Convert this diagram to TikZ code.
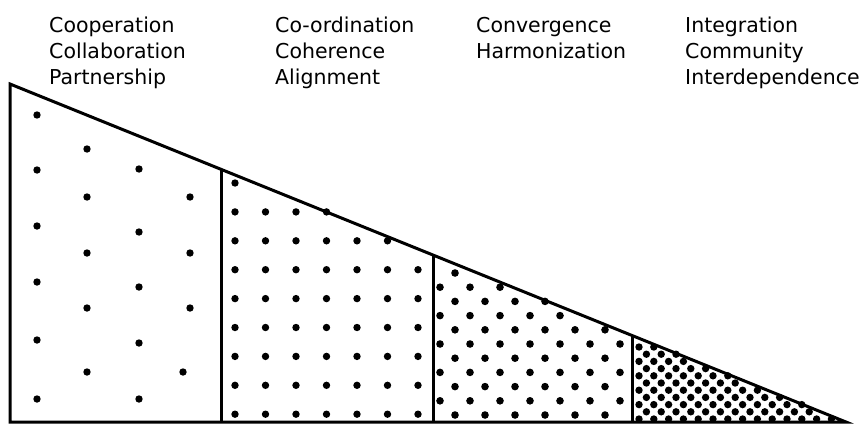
\documentclass[tikz,border=0pt]{standalone}
\usepackage{fontspec}
\setmainfont{DejaVu Sans}
% height of the sloping edge above the base line at abscissa #1
\newcommand{\slopeat}[1]{84+(#1-10)/836*338}
\tikzset{
  heading/.style={anchor=base west, align=left, inner sep=0pt,
    font=\fontsize{20.5}{26}\selectfont},
  wall/.style={line width=3pt, line join=miter}
}
\begin{document}
\begin{tikzpicture}[x=1pt, y=-1pt]
  \useasboundingbox (0,0) rectangle (861,424);

  % the base anchor sits on the last line
  \node[heading] (coop) at (49,84) {Cooperation\\Collaboration\\Partnership};
  \node[heading] (coord) at (275,84) {Co-ordination\\Coherence\\Alignment};
  \node[heading] (conv) at (476,58) {Convergence\\Harmonization};
  \node[heading] (integ) at (685,84) {Integration\\Community\\Interdependence};

  \coordinate (apex) at (10,84);
  \coordinate (foot) at (10,422);
  \coordinate (tip) at (846,422);
  \draw[wall] (apex) -- (foot) -- (tip) -- cycle;
  \foreach \xd in {221,433,632}
    \draw[wall] (\xd,422) -- (\xd,{\slopeat{\xd}});

  % first band: sparse dots
  \foreach \px/\py in {37/115,37/170,37/226,37/282,37/340,37/399,
      87/149,87/197,87/253,87/308,87/372,
      139/169,139/232,139/287,139/343,139/399,
      190/197,190/253,190/308,183/372}
    \fill (\px,\py) circle (3.7pt);

  % second band: square grid
  \foreach \i in {0,...,6}
    \foreach \j in {0,...,8} {
      \pgfmathsetmacro\px{235+30.5*\i}
      \pgfmathsetmacro\py{183+28.9*\j}
      \pgfmathtruncatemacro\inside{(\py >= \slopeat{\px}-1.5) ? 1 : 0}
      \ifnum\inside=1 \fill (\px,\py) circle (3.7pt); \fi
    }

  % third band: staggered grid
  \foreach \j in {0,...,10}
    \foreach \i in {0,...,6} {
      \pgfmathsetmacro\py{273+14.2*\j}
      \pgfmathsetmacro\px{(mod(\j,2)==0 ? 455 : 440)+30*\i}
      \pgfmathtruncatemacro\inside{(\py >= \slopeat{\px}) && (\px < 627) ? 1 : 0}
      \ifnum\inside=1 \fill (\px,\py) circle (3.8pt); \fi
    }

  % fourth band: dense staggered grid
  \foreach \j in {0,...,11}
    \foreach \i in {0,...,14} {
      \pgfmathsetmacro\py{419-7.2*\j}
      \pgfmathsetmacro\px{(mod(\j,2)==0 ? 639 : 646.4)+14.8*\i}
      \pgfmathtruncatemacro\inside{(\py >= \slopeat{\px}) ? 1 : 0}
      \ifnum\inside=1 \fill (\px,\py) circle (3.7pt); \fi
    }
\end{tikzpicture}
\end{document}
